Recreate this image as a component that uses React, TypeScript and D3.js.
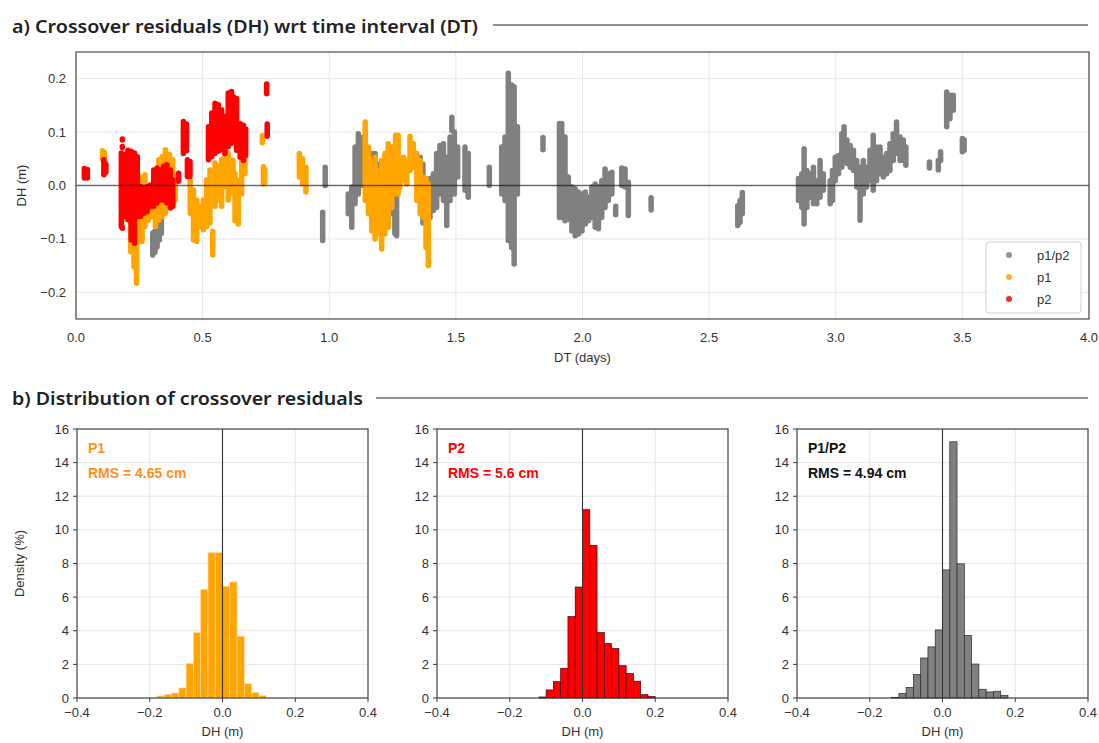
import React from 'react';
import * as d3 from 'd3';

type Streak = [number, number, number]; // [DT days, DH low, DH high]

const grayStreaks: Streak[] = [
  [0.303, -0.13, -0.089], [0.312, -0.125, -0.085], [0.32, -0.115, -0.075], [0.329, -0.102, -0.065], [0.337, -0.09, -0.065],
  [0.974, -0.103, -0.05], [0.984, 0.0, 0.034],
  [1.075, -0.053, -0.016], [1.089, -0.078, -0.003], [1.102, -0.034, 0.072], [1.115, -0.016, 0.097], [1.128, 0.0, 0.09],
  [1.168, -0.06, 0.06], [1.181, -0.02, 0.06], [1.194, -0.05, 0.04], [1.205, -0.08, 0.03],
  [1.246, -0.053, -0.003], [1.259, -0.09, -0.01], [1.266, -0.094, -0.016],
  [1.359, -0.003, 0.053], [1.37, -0.07, 0.04],
  [1.398, -0.06, 0.013], [1.411, -0.047, 0.022], [1.424, -0.041, 0.06], [1.437, -0.016, 0.075], [1.451, -0.028, 0.078],
  [1.464, -0.075, 0.053], [1.477, -0.028, 0.091], [1.484, 0.103, 0.128], [1.494, -0.016, 0.1], [1.507, 0.016, 0.072],
  [1.536, -0.009, 0.072], [1.549, -0.022, 0.06],
  [1.632, 0.0, 0.034],
  [1.681, -0.016, 0.072], [1.694, -0.028, 0.091], [1.707, -0.103, 0.21], [1.72, -0.116, 0.188], [1.73, -0.147, 0.185], [1.743, -0.016, 0.11],
  [1.844, 0.067, 0.09],
  [1.909, -0.06, 0.116], [1.918, -0.06, 0.116], [1.931, -0.066, 0.091], [1.944, -0.063, 0.016], [1.958, -0.085, -0.003],
  [1.971, -0.094, -0.006], [1.984, -0.091, -0.012], [1.998, -0.085, -0.016], [2.011, -0.072, -0.012], [2.024, -0.066, -0.022],
  [2.037, -0.06, -0.003], [2.05, -0.078, 0.003], [2.063, -0.081, -0.003], [2.076, -0.06, 0.009], [2.089, -0.041, 0.031],
  [2.102, -0.028, 0.022], [2.116, -0.016, 0.025], [2.131, -0.055, -0.039],
  [2.155, 0.0, 0.033], [2.168, -0.003, 0.031], [2.181, -0.056, 0.006],
  [2.271, -0.046, -0.023],
  [2.613, -0.075, -0.038], [2.622, -0.069, -0.028], [2.631, -0.053, -0.013],
  [2.853, -0.028, 0.013], [2.866, -0.041, 0.022], [2.875, -0.072, 0.069], [2.886, -0.041, 0.028], [2.899, -0.022, 0.022],
  [2.912, -0.034, 0.034], [2.925, -0.034, 0.009], [2.938, -0.022, 0.047], [2.951, -0.009, 0.022],
  [2.978, -0.034, 0.009], [2.987, -0.028, 0.028], [2.998, 0.009, 0.053], [3.011, 0.022, 0.056], [3.024, 0.034, 0.097],
  [3.033, 0.047, 0.11], [3.044, 0.041, 0.085], [3.057, 0.034, 0.075], [3.07, 0.028, 0.066], [3.083, -0.003, 0.047],
  [3.096, -0.065, 0.034], [3.109, -0.016, 0.047], [3.122, -0.003, 0.034], [3.135, 0.009, 0.066], [3.148, -0.009, 0.094],
  [3.161, 0.009, 0.072], [3.175, 0.022, 0.072], [3.188, 0.016, 0.053], [3.201, 0.022, 0.06], [3.214, 0.028, 0.078],
  [3.227, 0.047, 0.097], [3.24, 0.06, 0.119], [3.254, 0.047, 0.091], [3.267, 0.047, 0.085], [3.277, 0.038, 0.072],
  [3.37, 0.033, 0.044], [3.405, 0.029, 0.047], [3.414, 0.047, 0.063],
  [3.438, 0.11, 0.175], [3.451, 0.125, 0.169], [3.464, 0.141, 0.169],
  [3.5, 0.063, 0.088], [3.507, 0.066, 0.085],
];

const orangeStreaks: Streak[] = [
  [0.105, 0.048, 0.065], [0.112, 0.045, 0.062],
  [0.183, -0.064, -0.002], [0.216, -0.124, -0.002], [0.229, -0.152, -0.015], [0.239, -0.183, -0.045], [0.251, -0.105, 0.017],
  [0.261, -0.105, -0.033], [0.272, -0.077, 0.02], [0.285, -0.065, -0.02], [0.298, -0.058, -0.015], [0.314, -0.077, -0.015],
  [0.327, -0.065, 0.048], [0.34, -0.058, 0.054], [0.353, -0.052, 0.067], [0.369, -0.027, 0.058], [0.382, -0.039, 0.048],
  [0.392, -0.027, 0.017],
  [0.451, -0.052, 0.01], [0.464, -0.102, -0.008], [0.477, -0.105, -0.027], [0.49, -0.077, -0.039], [0.503, -0.083, -0.027],
  [0.516, -0.077, 0.011], [0.529, -0.07, 0.029], [0.54, -0.13, -0.086], [0.549, -0.039, 0.042], [0.562, -0.027, 0.036],
  [0.575, -0.039, 0.048], [0.588, -0.002, 0.054], [0.601, -0.027, 0.061], [0.614, -0.014, 0.03], [0.62, -0.009, 0.047],
  [0.628, -0.066, 0.022], [0.641, -0.072, 0.009], [0.654, -0.016, 0.047], [0.667, 0.022, 0.06],
  [0.736, 0.08, 0.093], [0.74, 0.003, 0.035], [0.745, 0.005, 0.03],
  [0.882, 0.016, 0.06], [0.895, 0.003, 0.05], [0.908, -0.012, 0.034],
  [1.142, -0.028, 0.119], [1.155, -0.053, 0.072], [1.168, -0.085, 0.047], [1.181, -0.1, 0.053], [1.194, -0.091, 0.028],
  [1.207, -0.119, 0.047], [1.22, -0.091, 0.06], [1.233, -0.078, 0.078], [1.247, -0.041, 0.072], [1.262, -0.016, 0.094],
  [1.272, -0.016, 0.094], [1.279, -0.003, 0.047], [1.293, 0.009, 0.053], [1.306, 0.003, 0.047], [1.319, 0.028, 0.092],
  [1.332, 0.034, 0.078], [1.346, -0.028, 0.06], [1.359, -0.053, 0.047], [1.372, -0.06, 0.016], [1.382, -0.116, 0.013],
  [1.391, -0.15, 0.003],
];

const redStreaks: Streak[] = [
  [0.033, 0.014, 0.032], [0.045, 0.014, 0.03],
  [0.11, 0.02, 0.048], [0.118, 0.025, 0.04],
  [0.183, 0.085, 0.087], [0.183, 0.071, 0.073], [0.183, -0.08, -0.078],
  [0.179, -0.077, 0.061], [0.192, -0.058, 0.058], [0.205, -0.064, 0.066], [0.218, -0.102, 0.064], [0.231, -0.108, 0.061],
  [0.242, -0.058, 0.054], [0.255, -0.058, -0.002], [0.268, -0.052, -0.005], [0.281, -0.049, -0.002], [0.294, -0.039, 0.001],
  [0.307, -0.039, 0.029], [0.32, -0.033, 0.033], [0.333, -0.027, 0.029], [0.346, -0.027, 0.036], [0.359, -0.033, 0.039],
  [0.373, -0.042, 0.029], [0.382, -0.039, 0.011],
  [0.405, 0.008, 0.023], [0.424, 0.06, 0.12], [0.436, 0.065, 0.115], [0.44, 0.017, 0.048], [0.45, 0.017, 0.045],
  [0.523, 0.048, 0.11], [0.536, 0.054, 0.136], [0.549, 0.06, 0.154], [0.562, 0.064, 0.151], [0.575, 0.067, 0.142],
  [0.588, 0.06, 0.129], [0.601, 0.073, 0.173], [0.614, 0.079, 0.176], [0.621, 0.091, 0.166], [0.634, 0.066, 0.163],
  [0.648, 0.053, 0.116], [0.661, 0.047, 0.113], [0.67, 0.056, 0.106],
  [0.753, 0.172, 0.19], [0.755, 0.092, 0.115],
];

const dtTicks = [0, 0.5, 1, 1.5, 2, 2.5, 3, 3.5, 4];
const dhTicks = [-0.2, -0.1, 0, 0.1, 0.2];
const legendLabels = ['p1/p2', 'p1', 'p2'];

const histXTicks = [-0.4, -0.2, 0, 0.2, 0.4];
const histYTicks = [0, 2, 4, 6, 8, 10, 12, 14, 16];
const BIN_WIDTH = 0.02;
const p1Start = -0.18;
const p1Density = [0.12, 0.2, 0.3, 0.6, 2.05, 3.9, 6.45, 8.65, 8.65, 6.65, 6.9, 3.67, 0.85, 0.32, 0.14];
const p2Start = -0.12;
const p2Density = [0.06, 0.48, 0.97, 1.77, 4.84, 6.6, 11.2, 9.07, 3.89, 3.23, 2.94, 1.92, 1.45, 1.0, 0.2, 0.08];
const p12Start = -0.14;
const p12Density = [0.04, 0.26, 0.63, 1.4, 2.38, 3.04, 4.05, 7.62, 15.24, 7.98, 3.71, 2.02, 0.52, 0.36, 0.4, 0.16];

const histNames = ['P1', 'P2', 'P1/P2'];
const histRms = ['RMS = 4.65 cm', 'RMS = 5.6 cm', 'RMS = 4.94 cm'];

const GRAY = '#808080';
const ORANGE = '#ffa500';
const RED = '#ff0000';
const GRID = '#e6e6e6';
const AXIS = '#3a3a3a';
const TXT = '#333';
const FONT = '"Liberation Sans", Arial, sans-serif';
const TITLE_FONT = '"Noto Sans", "Open Sans", sans-serif';

const fmt1 = d3.format('.1f');

function TopPanel() {
  const L = 76, R = 1089, T = 52, B = 319;
  const x = d3.scaleLinear().domain([0, 4]).range([L, R]);
  const y = d3.scaleLinear().domain([-0.25, 0.25]).range([B, T]);
  const series: [Streak[], string][] = [[grayStreaks, GRAY], [orangeStreaks, ORANGE], [redStreaks, RED]];
  return (
    <g>
      {dtTicks.map((t) => (
        <line key={'gx' + t} x1={x(t)} x2={x(t)} y1={T} y2={B} stroke={GRID} strokeWidth={1} />
      ))}
      {dhTicks.map((t) => (
        <line key={'gy' + t} x1={L} x2={R} y1={y(t)} y2={y(t)} stroke={GRID} strokeWidth={1} />
      ))}
      {series.map(([data, color], si) => (
        <g key={si}>
          {data.map((d, i) => (
            <line key={i} x1={x(d[0])} x2={x(d[0])} y1={y(d[1])} y2={y(d[2])} stroke={color} strokeWidth={5.5} strokeLinecap="round" />
          ))}
        </g>
      ))}
      <line x1={L} x2={R} y1={y(0)} y2={y(0)} stroke="#000" strokeOpacity={0.55} strokeWidth={1.3} />
      <rect x={L} y={T} width={R - L} height={B - T} fill="none" stroke={AXIS} strokeWidth={1.1} />
      {dhTicks.map((t) => (
        <text key={'ly' + t} x={L - 10} y={y(t) + 4.5} textAnchor="end" fontSize={13} fill={TXT} fontFamily={FONT}>
          {fmt1(t)}
        </text>
      ))}
      {dtTicks.map((t) => (
        <text key={'lx' + t} x={x(t)} y={B + 23} textAnchor="middle" fontSize={13} fill={TXT} fontFamily={FONT}>
          {fmt1(t)}
        </text>
      ))}
      <text x={(L + R) / 2} y={B + 43} textAnchor="middle" fontSize={13} fill={TXT} fontFamily={FONT}>DT (days)</text>
      <text transform={`translate(26,${y(0)}) rotate(-90)`} textAnchor="middle" fontSize={13} fill={TXT} fontFamily={FONT}>DH (m)</text>
      <g>
        <rect x={986} y={242} width={95} height={71} rx={3} fill="#fff" fillOpacity={0.9} stroke="#d0d0d0" strokeWidth={1} />
        {legendLabels.map((lab, i) => (
          <g key={lab}>
            <circle cx={1009} cy={255 + i * 22} r={3} fill={[GRAY, ORANGE, RED][i]} fillOpacity={0.85} />
            <text x={1037} y={260 + i * 22} fontSize={13} fill={TXT} fontFamily={FONT}>{lab}</text>
          </g>
        ))}
      </g>
    </g>
  );
}

function Hist({ left, start, density, color, stroke, strokeW, name, rms, textColor, showYLabel }: any) {
  const W = 291, T = 429, B = 698;
  const x = d3.scaleLinear().domain([-0.4, 0.4]).range([left, left + W]);
  const y = d3.scaleLinear().domain([0, 16]).range([B, T]);
  return (
    <g>
      {histXTicks.map((t) => (
        <line key={'gx' + t} x1={x(t)} x2={x(t)} y1={T} y2={B} stroke={GRID} strokeWidth={1} />
      ))}
      {histYTicks.map((t) => (
        <line key={'gy' + t} x1={left} x2={left + W} y1={y(t)} y2={y(t)} stroke={GRID} strokeWidth={1} />
      ))}
      {density.map((d: number, i: number) => {
        const x0 = x(start + i * BIN_WIDTH);
        const x1 = x(start + (i + 1) * BIN_WIDTH);
        return (
          <rect key={i} x={x0} y={y(d)} width={x1 - x0} height={y(0) - y(d)} fill={color} stroke={stroke} strokeWidth={strokeW} />
        );
      })}
      <line x1={x(0)} x2={x(0)} y1={T} y2={B} stroke="#333" strokeWidth={1.1} />
      <rect x={left} y={T} width={W} height={B - T} fill="none" stroke={AXIS} strokeWidth={1.1} />
      {histYTicks.map((t) => (
        <g key={'ty' + t}>
          <line x1={left - 4} x2={left} y1={y(t)} y2={y(t)} stroke={AXIS} strokeWidth={1} />
          <text x={left - 8} y={y(t) + 4.5} textAnchor="end" fontSize={13} fill={TXT} fontFamily={FONT}>{t}</text>
        </g>
      ))}
      {histXTicks.map((t) => (
        <g key={'tx' + t}>
          <line x1={x(t)} x2={x(t)} y1={B} y2={B + 4} stroke={AXIS} strokeWidth={1} />
          <text x={x(t)} y={B + 19} textAnchor="middle" fontSize={13} fill={TXT} fontFamily={FONT}>{fmt1(t)}</text>
        </g>
      ))}
      <text x={left + W / 2} y={B + 38} textAnchor="middle" fontSize={13} fill={TXT} fontFamily={FONT}>DH (m)</text>
      {showYLabel && (
        <text transform={`translate(24,${(T + B) / 2}) rotate(-90)`} textAnchor="middle" fontSize={13} fill={TXT} fontFamily={FONT}>Density (%)</text>
      )}
      <text x={left + 11} y={453} fontSize={14} fontWeight="bold" fill={textColor} fontFamily={FONT}>{name}</text>
      <text x={left + 11} y={478} fontSize={14} fontWeight="bold" fill={textColor} fontFamily={FONT}>{rms}</text>
    </g>
  );
}

export default function App() {
  return (
    <svg width={1099} height={743} style={{ position: 'absolute', left: 0, top: 0, background: '#fff' }}>
      <rect x={0} y={0} width={1099} height={743} fill="#fff" />
      <text x={12} y={33} fontSize={18} fontWeight={600} fill="#222" fontFamily={TITLE_FONT} textLength={466} lengthAdjust="spacingAndGlyphs">
        a) Crossover residuals (DH) wrt time interval (DT)
      </text>
      <line x1={493} x2={1088} y1={25} y2={25} stroke="#222" strokeWidth={1} />
      <TopPanel />
      <text x={12} y={405} fontSize={18} fontWeight={600} fill="#222" fontFamily={TITLE_FONT} textLength={351} lengthAdjust="spacingAndGlyphs">
        b) Distribution of crossover residuals
      </text>
      <line x1={376} x2={1088} y1={398} y2={398} stroke="#222" strokeWidth={1} />
      <Hist left={77} start={p1Start} density={p1Density} color={ORANGE} stroke="#ffd9a0" strokeW={0.7}
        name={histNames[0]} rms={histRms[0]} textColor="#ff8f1c" showYLabel />
      <Hist left={437} start={p2Start} density={p2Density} color={RED} stroke="#400000" strokeW={0.7}
        name={histNames[1]} rms={histRms[1]} textColor={RED} />
      <Hist left={797} start={p12Start} density={p12Density} color={GRAY} stroke="#2a2a2a" strokeW={0.7}
        name={histNames[2]} rms={histRms[2]} textColor="#111" />
    </svg>
  );
}
